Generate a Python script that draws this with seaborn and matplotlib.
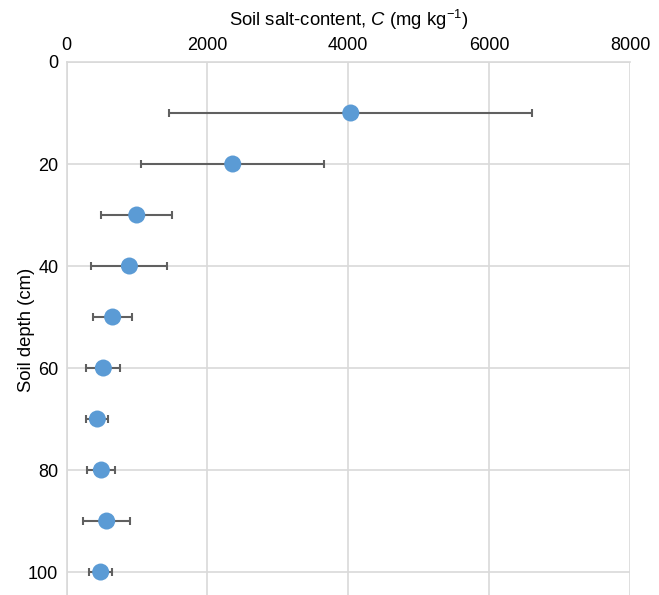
import matplotlib
matplotlib.use("Agg")
import matplotlib.pyplot as plt
import seaborn as sns
import pandas as pd

depth = [10, 20, 30, 40, 50, 60, 70, 80, 90, 100]
salt = [4035, 2359, 996, 892, 654, 522, 437, 494, 569, 484]
err = [2575, 1303, 505, 540, 273, 242, 155, 200, 330, 163]
x_ticks = [0, 2000, 4000, 6000, 8000]
y_ticks = [0, 20, 40, 60, 80, 100]

df = pd.DataFrame({"depth": depth, "salt": salt, "err": err})

sns.set_theme(style="white")
plt.rcParams['font.family'] = ['Liberation Sans', 'DejaVu Sans']
plt.rcParams['mathtext.fontset'] = 'custom'
plt.rcParams['mathtext.rm'] = 'Liberation Sans'
plt.rcParams['mathtext.it'] = 'Liberation Sans:italic'

fig = plt.figure(figsize=(6.59, 5.95), dpi=100)
ax = fig.add_axes([66.6 / 659, 0.0, (630 - 66.6) / 659, (595 - 62) / 595])

grid_c = "#d9d9d9"
ax.errorbar(df["salt"], df["depth"], xerr=df["err"], fmt="none",
            ecolor="#606060", elinewidth=1.5, capsize=3, capthick=1.5, zorder=3)
sns.scatterplot(data=df, x="salt", y="depth", ax=ax, color="#5B9BD5",
                s=150, edgecolor="none", zorder=4, legend=False)

ax.set_xlim(0, 8000)
ax.set_ylim(104.5, 0)
ax.set_xticks(x_ticks)
ax.set_yticks(y_ticks)
ax.xaxis.tick_top()
ax.xaxis.set_label_position("top")
ax.tick_params(axis="both", length=0, labelsize=13, colors="black")
ax.tick_params(axis="x", pad=6)
ax.tick_params(axis="y", pad=6)
ax.grid(True, color=grid_c, linewidth=1.2)
ax.set_axisbelow(True)
for s in ["right", "bottom"]:
    ax.spines[s].set_visible(False)
for s in ["left", "top"]:
    ax.spines[s].set_color(grid_c)
    ax.spines[s].set_linewidth(1.2)

ax.set_xlabel(r"Soil salt-content, $\mathit{C}$ (mg kg$^{\mathregular{-1}}$)",
              fontsize=13.3, labelpad=8, color="black")
ax.set_ylabel("Soil depth (cm)", fontsize=13.3, color="black")
ax.yaxis.set_label_coords(-0.056, 0.497)

fig.savefig("out.png", dpi=100)
